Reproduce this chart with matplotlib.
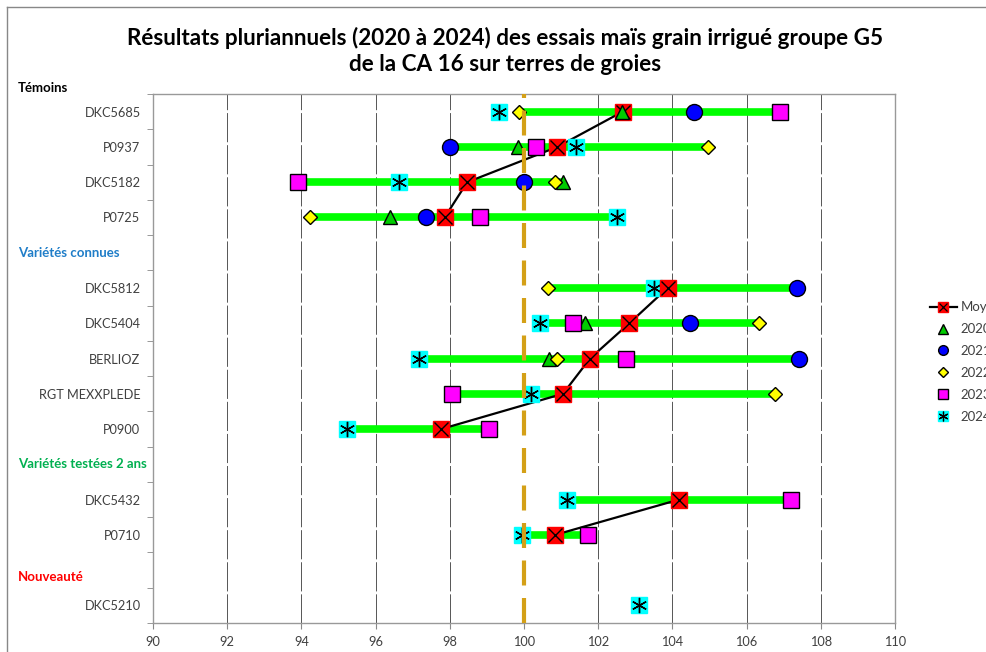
import numpy as np
import matplotlib
matplotlib.use("Agg")
import matplotlib.pyplot as plt
from matplotlib.lines import Line2D
from matplotlib.transforms import blended_transform_factory

nan = np.nan

# Rows top to bottom; empty strings are the section header rows
varieties = ["DKC5685", "P0937", "DKC5182", "P0725", "",
             "DKC5812", "DKC5404", "BERLIOZ", "RGT MEXXPLEDE", "P0900", "",
             "DKC5432", "P0710", "", "DKC5210"]

moy = [102.66, 100.90, 98.47, 97.86, nan,
       103.87, 102.84, 101.78, 101.05, 97.77, nan,
       104.18, 100.84, nan, nan]
y2020 = [102.63, 99.83, 101.05, 96.40, nan,
         nan, 101.65, 100.68, nan, nan, nan,
         nan, nan, nan, nan]
y2021 = [104.58, 98.00, 99.99, 97.35, nan,
         107.35, 104.47, 107.41, nan, nan, nan,
         nan, nan, nan, nan]
y2022 = [99.87, 104.96, 100.84, 94.22, nan,
         100.66, 106.33, 100.88, 106.76, nan, nan,
         nan, nan, nan, nan]
y2023 = [106.91, 100.31, 93.90, 98.81, nan,
         nan, 101.33, 102.76, 98.05, 99.05, nan,
         107.21, 101.72, nan, nan]
y2024 = [99.32, 101.41, 96.64, 102.52, nan,
         103.51, 100.43, 97.17, 100.19, 95.23, nan,
         101.16, 99.94, nan, 103.10]

# min / max bars (green)
bar_lo = [99.87, 98.00, 93.90, 94.22, nan,
          100.66, 100.43, 97.17, 98.05, 95.23, nan,
          101.16, 99.94, nan, nan]
bar_hi = [106.91, 104.96, 101.05, 102.52, nan,
          107.35, 106.33, 107.41, 106.76, 99.05, nan,
          107.21, 101.72, nan, nan]

sections = ["Témoins", "Variétés connues", "Variétés testées 2 ans", "Nouveauté"]
section_rows = [-0.67, 4, 10, 13.2]
section_colors = ["black", "#1F7DC8", "#00B050", "#FF0000"]

x_ticks = list(range(90, 111, 2))

plt.rcParams["font.family"] = ["Lato", "DejaVu Sans"]
TXT = "#404040"

fig = plt.figure(figsize=(9.86, 6.52), dpi=100, facecolor="white")
ax = fig.add_axes([153 / 986, 1 - 623 / 652, 742 / 986, 529 / 652])

rows = np.arange(len(varieties))

# grid
for xv in x_ticks[1:-1]:
    if xv == 100:
        continue
    ax.axvline(xv, color="#555555", lw=0.7, ls=(0, (30, 3)), zorder=1)

# green range bars
ax.hlines(rows, bar_lo, bar_hi, color="#00FF00", lw=5.5, zorder=2)

# moyenne line + markers
ax.plot(moy, rows, color="black", lw=1.6, zorder=3)
ax.plot(moy, rows, ls="none", marker="s", ms=11, mfc="#FF0000", mec="#FF0000", zorder=4)
ax.plot(moy, rows, ls="none", marker="x", ms=10, mec="black", mew=1.0, zorder=4.1)

# 2024 : cyan square with asterisk
ax.plot(y2024, rows, ls="none", marker="s", ms=11, mfc="#00FFFF", mec="#00FFFF", zorder=3.5)
ax.plot(y2024, rows, ls="none", marker=(6, 2, 0), ms=11, mec="black", mew=1.0, zorder=3.6)

ax.plot(y2020, rows, ls="none", marker="^", ms=10, mfc="#00CC00", mec="black", mew=1.0, zorder=5)
ax.plot(y2021, rows, ls="none", marker="o", ms=11.5, mfc="#0000FF", mec="black", mew=1.0, zorder=5.1)
ax.plot(y2022, rows, ls="none", marker="D", ms=7.5, mfc="#FFFF00", mec="black", mew=1.0, zorder=5.3)
ax.plot(y2023, rows, ls="none", marker="s", ms=11, mfc="#FF00FF", mec="black", mew=1.0, zorder=5.2)

# reference line at 100
ax.axvline(100, color="#D4A017", lw=3, ls=(0, (6, 3)), zorder=6)

ax.set_xlim(90, 110)
ax.set_ylim(len(varieties) - 0.5, -0.5)
ax.set_xticks(x_ticks)
ax.set_xticklabels([str(v) for v in x_ticks], color=TXT, fontsize=9.2)
ax.set_yticks(rows)
ax.set_yticklabels(varieties, color=TXT, fontsize=9.2)
ax.set_yticks(np.arange(-0.5, len(varieties) + 0.5, 1), minor=True)
ax.tick_params(axis="y", which="major", length=0, pad=9)
ax.tick_params(axis="y", which="minor", length=4, color="#888888")
ax.tick_params(axis="x", length=4, color="#888888", pad=5)
for sp in ax.spines.values():
    sp.set_color("#999999")
    sp.set_linewidth(1.0)

# section headers
trans = blended_transform_factory(fig.transFigure, ax.transData)
for name, r, c in zip(sections, section_rows, section_colors):
    ax.text(18 / 986, r, name, transform=trans, color=c, fontsize=9.5,
            fontweight="bold", ha="left", va="center", clip_on=False)

# title
fig.text(505 / 986, 1 - 51 / 652,
         "Résultats pluriannuels (2020 à 2024) des essais maïs grain irrigué groupe G5\n"
         "de la CA 16 sur terres de groies",
         ha="center", va="center", fontsize=16.2, fontweight="bold", linespacing=1.3)

# legend
moy_h = (Line2D([], [], color="black", lw=1.6, marker="s", ms=7, mfc="#FF0000", mec="#FF0000"),
         Line2D([], [], ls="none", marker="x", ms=6, mec="black", mew=0.9))
cyan_h = (Line2D([], [], ls="none", marker="s", ms=7, mfc="#00FFFF", mec="#00FFFF"),
          Line2D([], [], ls="none", marker=(6, 2, 0), ms=7, mec="black", mew=0.9))
handles = [
    moy_h,
    Line2D([], [], ls="none", marker="^", ms=7, mfc="#00CC00", mec="black"),
    Line2D([], [], ls="none", marker="o", ms=7, mfc="#0000FF", mec="black"),
    Line2D([], [], ls="none", marker="D", ms=5, mfc="#FFFF00", mec="black"),
    Line2D([], [], ls="none", marker="s", ms=7, mfc="#FF00FF", mec="black"),
    cyan_h,
]
labels = ["Moyenne", "2020", "2021", "2022", "2023", "2024"]
leg = fig.legend(handles, labels, loc="upper left", bbox_to_anchor=(925 / 986, 1 - 296 / 652),
                 frameon=False, fontsize=9.5, handlelength=2.0, handletextpad=0.3,
                 labelspacing=0.75, borderaxespad=0)
for t in leg.get_texts():
    t.set_color(TXT)

# chart frame (left and top edges visible)
fig.add_artist(Line2D([7 / 986, 7 / 986], [0, 1 - 7 / 652], transform=fig.transFigure,
                      color="#888888", lw=1))
fig.add_artist(Line2D([7 / 986, 1], [1 - 7 / 652, 1 - 7 / 652], transform=fig.transFigure,
                      color="#888888", lw=1))

fig.savefig("out.png", dpi=100, facecolor="white")
plt.close(fig)
